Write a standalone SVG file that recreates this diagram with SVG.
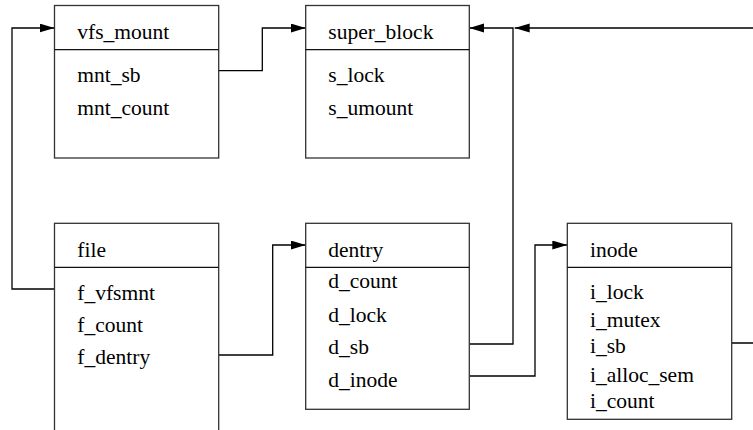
<svg xmlns="http://www.w3.org/2000/svg" width="753" height="430" viewBox="0 0 753 430">
<style>
.box{fill:#fff;stroke:#333;stroke-width:1.3}
.div{stroke:#111;stroke-width:1.3}
.c{fill:none;stroke:#000;stroke-width:1.3}
text{font-family:'Liberation Serif','Times New Roman',serif;font-size:21.5px;fill:#000}
</style>
<defs>
<marker id="ah" markerUnits="userSpaceOnUse" markerWidth="16" markerHeight="10" refX="15" refY="4.5" orient="auto">
<path d="M0,0 L15,4.5 L0,9 z" fill="#000"/>
</marker>
</defs>
<rect width="753" height="430" fill="#fff"/>
<g id="connectors">
<path class="c" d="M54.5,289 H12 V28 H54.5" marker-end="url(#ah)"/>
<path class="c" d="M218.7,70.7 H262.3 V28 H305.7" marker-end="url(#ah)"/>
<path class="c" d="M218.7,355 H272.7 V245 H305.7" marker-end="url(#ah)"/>
<path class="c" d="M469.3,344 H513 V28 H469.3" marker-end="url(#ah)"/>
<path class="c" d="M469.3,376 H535 V245 H567.3" marker-end="url(#ah)"/>
<path class="c" d="M731.7,343 H770 V28 H514.7" marker-end="url(#ah)"/>
</g>
<g id="vfs_mount">
<rect class="box" x="54.5" y="5.5" width="164.2" height="152.5"/>
<line class="div" x1="54.5" y1="49.7" x2="218.7" y2="49.7"/>
<text x="77.3" y="39.3">vfs_mount</text>
<text x="77.3" y="81.7">mnt_sb</text>
<text x="77.3" y="115">mnt_count</text>
</g>
<g id="super_block">
<rect class="box" x="305.7" y="5.5" width="163.6" height="152.5"/>
<line class="div" x1="305.7" y1="49.7" x2="469.3" y2="49.7"/>
<text x="328.3" y="39.3">super_block</text>
<text x="328.3" y="81.7">s_lock</text>
<text x="328.3" y="115">s_umount</text>
</g>
<g id="file">
<rect class="box" x="54.5" y="223.3" width="164.2" height="230"/>
<line class="div" x1="54.5" y1="267.3" x2="218.7" y2="267.3"/>
<text x="77.3" y="256.7">file</text>
<text x="77.3" y="299.5">f_vfsmnt</text>
<text x="77.3" y="332">f_count</text>
<text x="77.3" y="364">f_dentry</text>
</g>
<g id="dentry">
<rect class="box" x="305.7" y="223.3" width="163.6" height="186"/>
<line class="div" x1="305.7" y1="267.3" x2="469.3" y2="267.3"/>
<text x="328.3" y="256.7">dentry</text>
<text x="328.3" y="288.3">d_count</text>
<text x="328.3" y="321.5">d_lock</text>
<text x="328.3" y="354">d_sb</text>
<text x="328.3" y="387.3">d_inode</text>
</g>
<g id="inode">
<rect class="box" x="567.3" y="223.3" width="164.4" height="196"/>
<line class="div" x1="567.3" y1="267.3" x2="731.7" y2="267.3"/>
<text x="590" y="256.7">inode</text>
<text x="590" y="299.3">i_lock</text>
<text x="590" y="326.7">i_mutex</text>
<text x="590" y="353.3">i_sb</text>
<text x="590" y="381.7">i_alloc_sem</text>
<text x="590" y="408.3">i_count</text>
</g>
</svg>
